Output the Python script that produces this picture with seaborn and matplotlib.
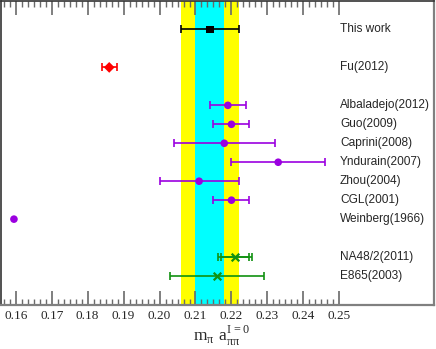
import matplotlib
matplotlib.use("Agg")
import matplotlib.pyplot as plt
import numpy as np
import pandas as pd
import seaborn as sns

# pi-pi I=0 scattering length results
labels = ["This work", "Fu(2012)", "Albaladejo(2012)", "Guo(2009)", "Caprini(2008)",
          "Yndurain(2007)", "Zhou(2004)", "CGL(2001)", "Weinberg(1966)",
          "NA48/2(2011)", "E865(2003)"]
row = [0, 2, 4, 5, 6, 7, 8, 9, 10, 12, 13]
value = [0.214, 0.186, 0.219, 0.220, 0.218, 0.233, 0.211, 0.220, 0.1595, 0.2210, 0.2160]
error = [0.008, 0.0021, 0.005, 0.005, 0.014, 0.013, 0.011, 0.005, 0.0, 0.0047, 0.013]
group = ["this", "lattice", "theory", "theory", "theory", "theory", "theory",
         "theory", "theory", "exp", "exp"]
# NA48/2 also shows an inner (statistical) bar
na48_stat = 0.0040

band_center = 0.214
band_inner = 0.004
band_outer = 0.008

colors = {"this": "black", "lattice": "#ff0000", "theory": "#9b00e0", "exp": "#119111"}
markers = {"this": "s", "lattice": "D", "theory": "o"}

df = pd.DataFrame({"label": labels, "row": row, "value": value,
                   "error": error, "group": group})

sns.set_style("ticks")
plt.rcParams["font.family"] = ["Liberation Serif", "DejaVu Serif"]
plt.rcParams["mathtext.fontset"] = "custom"
plt.rcParams["mathtext.rm"] = "Liberation Serif"
plt.rcParams["xtick.major.size"] = 10
plt.rcParams["xtick.minor.size"] = 4
plt.rcParams["xtick.direction"] = "in"

fig = plt.figure(figsize=(4.36, 3.49), dpi=100)
ax = fig.add_axes([1 / 436, 1 - 304.5 / 349, 432.5 / 436, 303.5 / 349])

ax.axvspan(band_center - band_outer, band_center + band_outer, color="#ffff00", lw=0, zorder=0)
ax.axvspan(band_center - band_inner, band_center + band_inner, color="#00ffff", lw=0, zorder=0)

for _, r in df.iterrows():
    if r["error"] > 0:
        ax.errorbar(r["value"], r["row"], xerr=r["error"], fmt="none",
                    ecolor=colors[r["group"]], elinewidth=1.2, capsize=3, capthick=1.2, zorder=2)
na = df[df["label"] == "NA48/2(2011)"].iloc[0]
ax.errorbar(na["value"], na["row"], xerr=na48_stat, fmt="none", ecolor=colors["exp"],
            elinewidth=1.2, capsize=3, capthick=1.2, zorder=2)

filled = df[df["group"] != "exp"]
sns.scatterplot(data=filled, x="value", y="row", hue="group", style="group",
                palette=colors, markers=markers, s=30, edgecolor="none",
                legend=False, ax=ax, zorder=3)
sns.scatterplot(data=df[df["group"] == "exp"], x="value", y="row", color=colors["exp"],
                marker="x", s=30, linewidth=1.6, legend=False, ax=ax, zorder=3)

for _, r in df.iterrows():
    ax.text(0.2502, r["row"], r["label"], ha="left", va="center", fontsize=8.6,
            family=["Liberation Sans", "DejaVu Sans"])

ax.set_xlim(0.1559, 0.2762)
ax.set_ylim(14.5, -1.5)
ax.set_ylabel("")
ax.set_yticks([])
major = np.arange(0.16, 0.2501, 0.01)
ax.set_xticks(major)
ax.set_xticklabels([f"{t:.2f}" for t in major], fontsize=9.5)
step = 0.01 / 6
ax.set_xticks(np.arange(0.16 - 2 * step, 0.25 + step / 2, step), minor=True)
ax.tick_params(axis="x", which="both", direction="in", top=True, bottom=True,
               color="#6a6a6a", width=1.0)
ax.tick_params(axis="x", which="major", length=10, width=1.2, pad=4)
ax.tick_params(axis="x", which="minor", length=4)
ax.set_xlabel(r"$\mathrm{m}_{\mathrm{\pi}}\ \mathrm{a}_{\mathrm{\pi\pi}}^{\mathrm{I=0}}$",
              fontsize=12.5)
ax.xaxis.set_label_coords(0.511, -0.062)

for side in ["top", "left"]:
    ax.spines[side].set_color("#333333")
    ax.spines[side].set_linewidth(1.2)
for side in ["bottom", "right"]:
    ax.spines[side].set_color("#808080")
    ax.spines[side].set_linewidth(1.6)

fig.savefig("out.png", dpi=100)
